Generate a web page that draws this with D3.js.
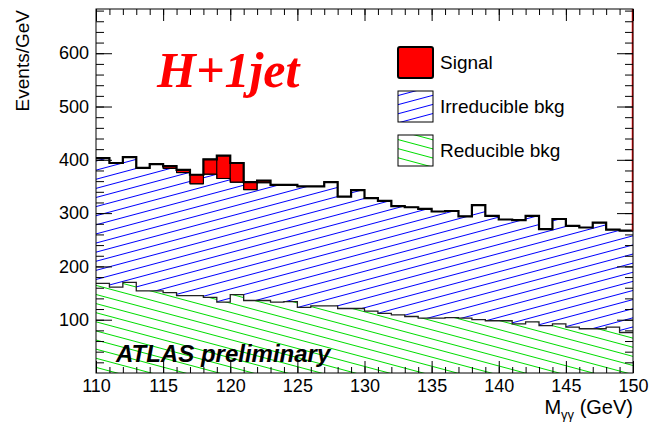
<!DOCTYPE html>
<html>
<head>
<meta charset="utf-8">
<script src="https://cdn.jsdelivr.net/npm/d3@7"></script>
<style>
  body { margin: 0; background: #fff; }
  text { fill: #000; }
</style>
</head>
<body>
<div id="chart"></div>
<script>
const width = 655;
const height = 425;
const sans = "Liberation Sans, Arial, sans-serif";
const serif = "Liberation Serif, Times New Roman, serif";

// bin low edges (1 GeV bins), events/GeV per component
const binEdges = d3.range(110, 150, 1);
const reducible = [168, 161, 170, 154, 154, 151, 145, 145, 142, 133,
                   147, 136, 136, 133, 134, 123, 126, 126, 121, 121,
                   116, 112, 109, 106, 103, 103, 104, 103, 100, 98,
                   98, 92, 96, 89, 92, 86, 83, 83, 86, 76];
const irreducible = [235, 233, 235, 231, 238, 233, 231, 210, 231, 232,
                     211, 208, 221, 220, 219, 227, 224, 232, 210, 222,
                     212, 211, 204, 205, 205, 200, 200, 191, 215, 197,
                     190, 195, 199, 181, 197, 190, 190, 199, 183, 191];
const signal = [0, 0, 0, 0, 0, 4, 5, 17, 28, 43,
                36, 14, 4, 0, 0, 0, 0, 0, 0, 0,
                0, 0, 0, 0, 0, 0, 0, 0, 0, 0,
                0, 0, 0, 0, 0, 0, 0, 0, 0, 0];
const xTicks = [110, 115, 120, 125, 130, 135, 140, 145, 150];
const yTicks = [100, 200, 300, 400, 500, 600];
const legendLabels = ["Signal", "Irreducible bkg", "Reducible bkg"];

const frame = { left: 96, right: 633, top: 9, bottom: 373 };

let svg = d3.select("#chart").append("svg")
  .attr("width", width)
  .attr("height", height)
  .style("font-family", sans);

let x = d3.scaleLinear().domain([110, 150]).range([frame.left, frame.right]);
let y = d3.scaleLinear().domain([0, 683]).range([frame.bottom, frame.top]);

// hatch patterns
let defs = svg.append("defs");
function hatch(id, color, angle) {
  let p = defs.append("pattern")
    .attr("id", id)
    .attr("patternUnits", "userSpaceOnUse")
    .attr("width", 20)
    .attr("height", 8.8)
    .attr("patternTransform", `rotate(${angle})`);
  p.append("line")
    .attr("x1", 0).attr("x2", 20)
    .attr("y1", 4.4).attr("y2", 4.4)
    .attr("stroke", color)
    .attr("stroke-width", 1);
}
hatch("blueHatch", "#0000ff", -15);
hatch("greenHatch", "#00dd00", 15);

// stacked levels
let bins = binEdges.map((lo, i) => {
  let r = reducible[i];
  let b = r + irreducible[i];
  return { lo: lo, hi: lo + 1, red: r, bkg: b, tot: b + signal[i] };
});

// step path builders
function stepLine(key) {
  let pts = [];
  bins.forEach((d) => {
    pts.push([x(d.lo), y(d[key])]);
    pts.push([x(d.hi), y(d[key])]);
  });
  return pts;
}
function band(lowKey, highKey) {
  let top = stepLine(highKey);
  let bot = lowKey ? stepLine(lowKey).reverse() : [[x(150), y(0)], [x(110), y(0)]];
  return "M" + top.concat(bot).map((p) => p.join(",")).join("L") + "Z";
}
let line = d3.line();

// reducible (green)
svg.append("path")
  .attr("d", band(null, "red"))
  .attr("fill", "url(#greenHatch)");

// irreducible (blue)
svg.append("path")
  .attr("d", band("red", "bkg"))
  .attr("fill", "url(#blueHatch)");

// signal boxes
svg.selectAll(".sig")
  .data(bins.filter((d) => d.tot > d.bkg))
  .enter()
  .append("rect")
  .attr("class", "sig")
  .attr("x", (d) => x(d.lo))
  .attr("width", (d) => x(d.hi) - x(d.lo))
  .attr("y", (d) => y(d.tot))
  .attr("height", (d) => y(d.bkg) - y(d.tot))
  .attr("fill", "#ff0000")
  .attr("stroke", "#000")
  .attr("stroke-width", 1);

// outlines
svg.append("path")
  .attr("d", line(stepLine("red")))
  .attr("fill", "none")
  .attr("stroke", "#222")
  .attr("stroke-width", 1.3);
svg.append("path")
  .attr("d", line(stepLine("bkg")))
  .attr("fill", "none")
  .attr("stroke", "#000")
  .attr("stroke-width", 1);
svg.append("path")
  .attr("d", line(stepLine("tot")))
  .attr("fill", "none")
  .attr("stroke", "#000")
  .attr("stroke-width", 2.2);

// red edge at right border
svg.append("line")
  .attr("x1", x(150) - 0.5).attr("x2", x(150) - 0.5)
  .attr("y1", frame.top).attr("y2", y(bins[bins.length - 1].tot))
  .attr("stroke", "#ff0000")
  .attr("stroke-width", 1.5);

// axes (ticks inside the frame)
const fontSize = 18;
let minorX = d3.range(110, 151, 1);
let minorY = d3.range(20, 683, 20);

svg.append("g")
  .attr("transform", `translate(0,${frame.bottom})`)
  .call(d3.axisBottom(x).tickValues(minorX).tickSize(-6).tickFormat(""));
svg.append("g")
  .attr("transform", `translate(0,${frame.bottom})`)
  .call(d3.axisBottom(x).tickValues(xTicks).tickSize(-12).tickPadding(6).tickFormat(d3.format("d")))
  .call((g) => g.selectAll("text").attr("font-size", fontSize).style("font-family", sans));
svg.append("g")
  .attr("transform", `translate(0,${frame.top})`)
  .call(d3.axisTop(x).tickValues(minorX).tickSize(-6).tickFormat(""));
svg.append("g")
  .attr("transform", `translate(0,${frame.top})`)
  .call(d3.axisTop(x).tickValues(xTicks).tickSize(-12).tickFormat(""));

svg.append("g")
  .attr("transform", `translate(${frame.left},0)`)
  .call(d3.axisLeft(y).tickValues(minorY).tickSize(-8).tickFormat(""));
svg.append("g")
  .attr("transform", `translate(${frame.left},0)`)
  .call(d3.axisLeft(y).tickValues(yTicks).tickSize(-16).tickPadding(7).tickFormat(d3.format("d")))
  .call((g) => g.selectAll("text").attr("font-size", fontSize).style("font-family", sans));
svg.append("g")
  .attr("transform", `translate(${frame.right},0)`)
  .call(d3.axisRight(y).tickValues(minorY).tickSize(-8).tickFormat(""));
svg.append("g")
  .attr("transform", `translate(${frame.right},0)`)
  .call(d3.axisRight(y).tickValues(yTicks).tickSize(-16).tickFormat(""));

svg.selectAll(".domain").remove();
svg.selectAll(".tick line").attr("stroke", "#000");

// frame
svg.append("rect")
  .attr("x", frame.left).attr("y", frame.top)
  .attr("width", frame.right - frame.left)
  .attr("height", frame.bottom - frame.top)
  .attr("fill", "none")
  .attr("stroke", "#000")
  .attr("stroke-width", 1);

// axis titles
svg.append("text")
  .attr("transform", `translate(29,${frame.top + 1}) rotate(-90)`)
  .attr("text-anchor", "end")
  .attr("font-size", 19)
  .text("Events/GeV");

let xt = svg.append("text")
  .attr("x", frame.right)
  .attr("y", 414)
  .attr("text-anchor", "end")
  .attr("font-size", 20);
xt.append("tspan").text("M");
xt.append("tspan").attr("font-size", 13).attr("dy", 5).text("γγ");
xt.append("tspan").attr("dy", -5).text(" (GeV)");

// labels in the plot
svg.append("text")
  .attr("x", 157)
  .attr("y", 87)
  .style("font-family", serif)
  .attr("font-weight", "bold")
  .attr("font-style", "italic")
  .attr("font-size", 50)
  .style("fill", "#ff0000")
  .text("H+1jet");

svg.append("text")
  .attr("x", 116)
  .attr("y", 362)
  .attr("font-weight", "bold")
  .attr("font-style", "italic")
  .attr("font-size", 24)
  .text("ATLAS preliminary");

// legend
const legendFills = ["#ff0000", "url(#blueHatch)", "url(#greenHatch)"];
const legendY = [47, 91, 135];
let leg = svg.selectAll(".leg")
  .data(legendLabels)
  .enter()
  .append("g")
  .attr("class", "leg")
  .attr("transform", (d, i) => `translate(398,${legendY[i]})`);
leg.append("rect")
  .attr("width", 35)
  .attr("height", 31)
  .attr("rx", (d, i) => (i === 0 ? 2 : 0))
  .attr("fill", (d, i) => legendFills[i])
  .attr("stroke", "#000")
  .attr("stroke-width", (d, i) => (i === 0 ? 2 : 1));
leg.append("text")
  .attr("x", 42)
  .attr("y", 22)
  .attr("font-size", 19)
  .text((d) => d);
</script>
</body>
</html>
